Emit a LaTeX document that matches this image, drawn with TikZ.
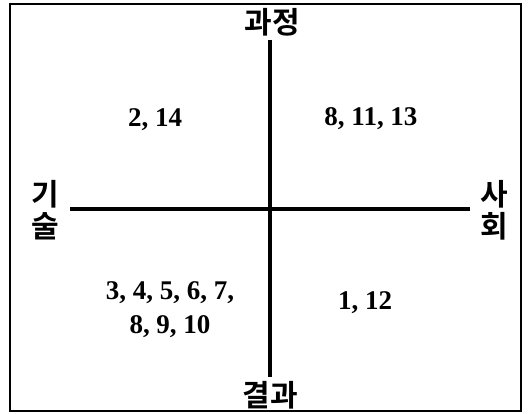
\documentclass[tikz,border=0pt]{standalone}
\usepackage{fontspec}
\setmainfont{Liberation Serif}
\newfontfamily\krfont{Noto Sans CJK KR}[BoldFont={Noto Sans CJK KR Bold}]
\begin{document}
\begin{tikzpicture}[x=1pt,y=-1pt,line cap=butt,
    axis/.style={line width=4pt},
    axlabel/.style={font=\krfont\bfseries\fontsize{30}{32}\selectfont,align=center,inner sep=0pt},
    items/.style={font=\bfseries\fontsize{27}{34}\selectfont,align=center,inner sep=0pt}]
  \useasboundingbox (0,0) rectangle (530,414);
  \draw[line width=2pt] (10,4) rectangle (521,411);
  % the two axes
  \coordinate (top) at (270,40);
  \coordinate (bot) at (270,377);
  \coordinate (lft) at (70,209);
  \coordinate (rgt) at (470,209);
  \draw[axis] (top) -- (bot);
  \draw[axis] (lft) -- (rgt);
  \node[axlabel] (proc) at (272,22) {과정};
  \node[axlabel] (res) at (270,395) {결과};
  \node[axlabel] (tech) at (45,210) {기\\술};
  \node[axlabel] (soc) at (494,210) {사\\회};
  % quadrants
  \node[items] (qa) at (155,120) {2, 14};
  \node[items] (qb) at (371,119) {8, 11, 13};
  \node[items] (qc) at (170,310) {3, 4, 5, 6, 7,\\8, 9, 10};
  \node[items] (qd) at (365,303) {1, 12};
\end{tikzpicture}
\end{document}
